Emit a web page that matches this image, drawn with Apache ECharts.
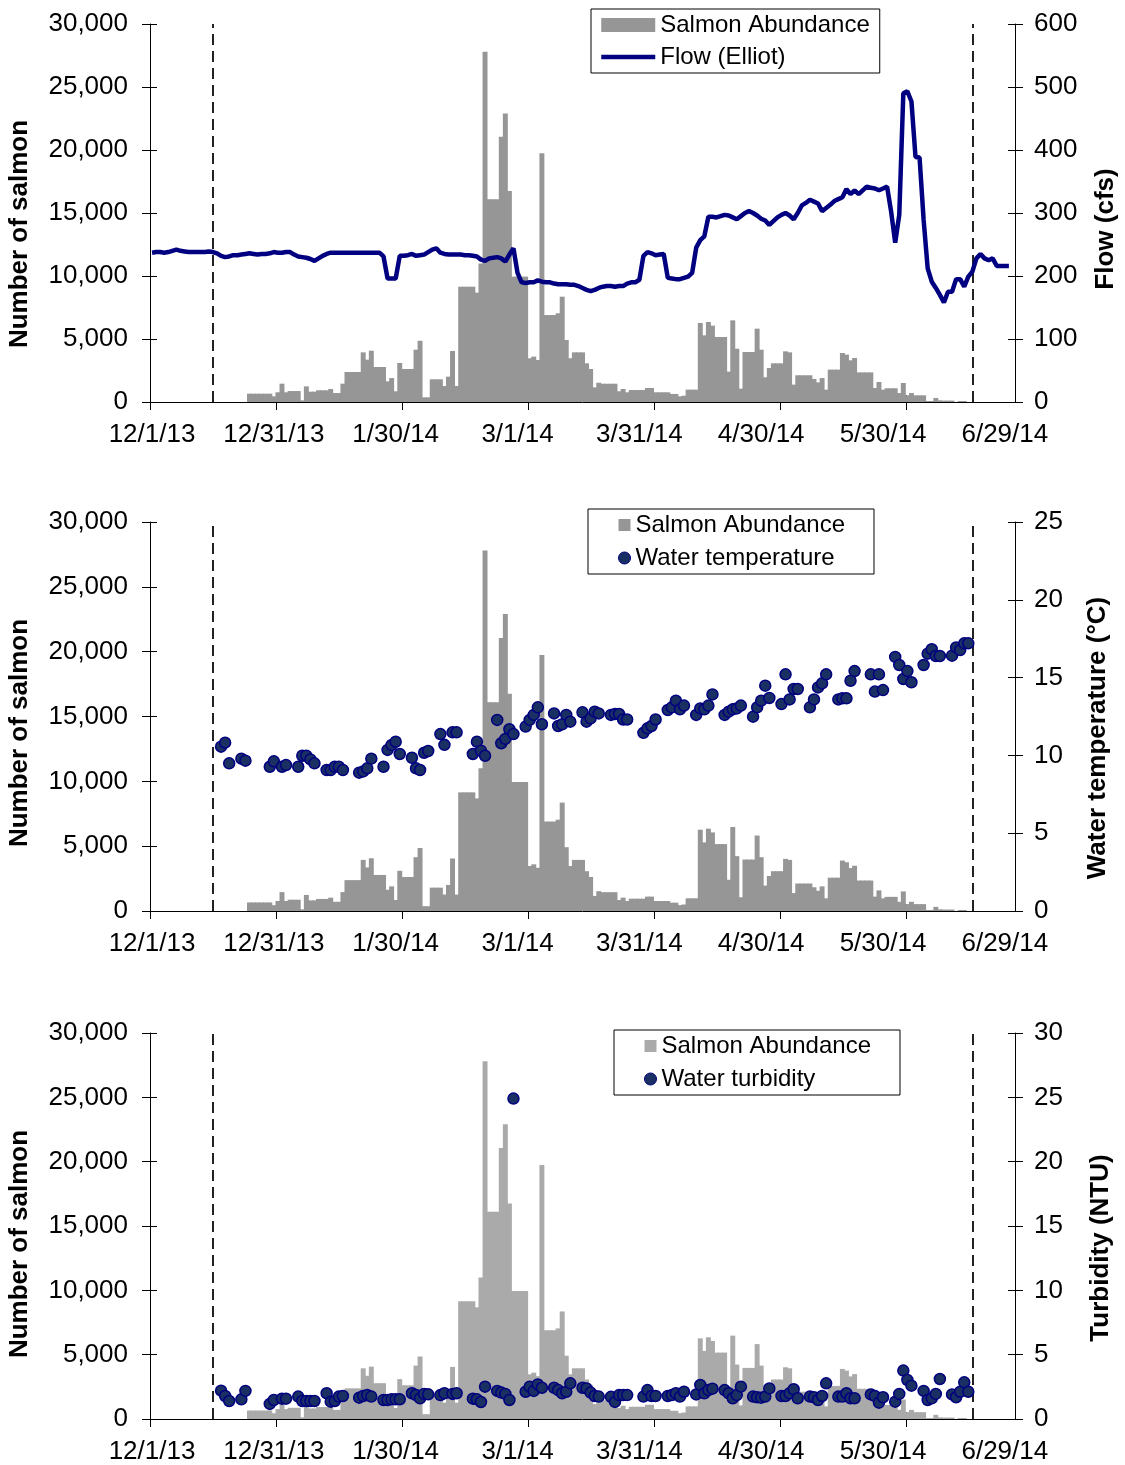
<!DOCTYPE html>
<html>
<head>
<meta charset="utf-8">
<title>Salmon abundance, flow, temperature and turbidity</title>
<script src="https://cdn.jsdelivr.net/npm/echarts@6/dist/echarts.min.js"></script>
<style>
  html, body { margin: 0; padding: 0; background: #fff; }
  #main { width: 1125px; height: 1465px; }
</style>
</head>
<body>
<div id="main"></div>
<script>
// daily salmon counts, index 0 = 12/1/13, last = 7/1/14
var salmon = [
  0,0,0,0,0,0,0,0,0,0,
  0,0,0,0,0,0,0,0,0,0,
  0,0,0,0,660,660,660,660,660,660,
  450,770,1455,770,870,870,870,130,1240,820,
  820,930,930,930,1030,710,710,1455,2380,2380,
  2380,2380,3940,3360,4070,2780,2780,2780,1640,1900,
  850,3100,2620,2620,2620,4150,4860,370,370,1800,
  1800,1800,1270,2010,4050,1270,9150,9150,9150,9150,
  8680,11000,27800,16100,16100,16100,21060,22900,16750,9950,
  9950,9950,9950,3470,3600,3330,19740,6900,6900,6900,
  7040,8360,4920,3470,3940,3940,3940,3070,2620,1160,
  1530,1450,1450,1450,1450,850,1030,770,950,950,
  950,950,1110,1110,770,770,770,770,640,640,
  450,500,980,980,980,6270,5290,6350,6060,5160,
  5160,5160,2410,6480,4230,1060,3970,3970,3970,5820,
  4150,1960,2700,3070,3070,3070,4020,3940,1380,2120,
  2120,2120,2120,1830,1560,1900,980,2570,2570,2570,
  3890,3760,3310,3490,2350,2350,2350,2350,1110,1590,
  980,1090,1090,1090,710,1510,530,710,530,530,
  530,80,80,320,130,110,110,110,0,80,
  80,0,0,0,0,0,0,0,0,0,
  0,0,0
];

// daily flow at Elliot (cfs), index 0 = 12/1/13
var flow = [
  237,238,238,237,238,240,242,240,239,238,
  238,238,238,238,239,238,236,232,230,231,
  233,233,234,235,236,235,234,235,235,236,
  238,237,237,238,238,234,231,230,229,227,
  224,228,232,235,237,237,237,237,237,237,
  237,237,237,237,237,237,237,231,196,196,
  196,232,232,233,235,232,233,234,238,242,
  244,237,235,234,234,234,234,233,233,232,
  231,226,224,228,229,230,228,223,234,244,
  205,190,189,190,190,193,191,190,190,188,
  187,187,187,186,186,184,181,178,176,178,
  181,183,184,184,183,184,184,188,190,190,
  194,232,238,236,233,234,235,197,196,195,
  195,197,199,205,245,257,263,294,294,293,
  295,297,296,293,290,295,300,303,300,296,
  291,288,281,287,293,297,300,296,290,300,
  312,316,321,318,315,303,308,313,319,322,
  325,338,330,336,330,336,342,340,339,336,
  339,342,302,253,297,490,493,477,389,388,
  289,212,191,181,170,158,175,175,195,195,
  183,199,207,228,235,228,225,228,216,216,
  216,216
];

// sampling days (index from 12/1/13) for water temperature and turbidity
var sampleDays = [
  17,18,19, 22,23, 29,30, 32,33,
  36,37,38,39,40, 43,44,45,46,47, 51,52,53,54, 57,58,59,60,61,
  64,65,66,67,68, 71,72,74,75, 79,80,81,82, 85,86,87,88,89,
  92,93,94,95,96, 99,100,101,102,103, 106,107,108,109,110, 113,114,115,116,117,
  121,122,123,124, 127,128,129,130,131, 134,135,136,137,138, 141,142,143,144,145,
  148,149,150,151,152, 155,156,157,158,159, 162,163,164,165,166, 169,170,171,172,173,
  177,178,179,180, 183,184,185,186,187, 190,191,192,193,194, 197,198,199,200,201
];

var tempC = [
  10.56,10.82,9.49, 9.79,9.66, 9.27,9.62, 9.27,9.38,
  9.27,9.98,9.98,9.74,9.49, 9.06,9.06,9.27,9.27,9.06, 8.89,8.97,9.17,9.79, 9.27,10.35,10.67,10.88,10.09,
  9.85,9.17,9.06,10.17,10.28, 11.37,10.68,11.48,11.48, 10.09,10.88,10.30,9.98, 12.28,10.78,11.06,11.68,11.37,
  11.85,12.28,12.60,13.09,12.00, 12.70,11.89,12.00,12.60,12.17, 12.77,12.17,12.38,12.81,12.70, 12.60,12.66,12.66,12.31,12.31,
  11.45,11.74,11.89,12.31, 12.92,13.09,13.52,12.96,13.20, 12.60,13.02,12.96,13.20,13.92, 12.60,12.81,12.96,13.02,13.20,
  12.49,13.09,13.52,14.48,13.69, 13.30,15.21,13.60,14.27,14.27, 13.09,13.60,14.37,14.63,15.21, 13.60,13.67,13.67,14.80,15.42,
  15.21,14.10,15.21,14.20, 16.33,15.81,14.91,15.42,14.70, 15.81,16.54,16.82,16.39,16.39, 16.41,16.94,16.77,17.20,17.20
];

var turbNTU = [
  2.20,1.79,1.40, 1.53,2.18, 1.17,1.48, 1.58,1.58,
  1.74,1.40,1.40,1.40,1.40, 2.00,1.35,1.40,1.74,1.79, 1.66,1.79,1.86,1.74, 1.48,1.48,1.53,1.53,1.53,
  2.00,1.86,1.61,1.95,1.92, 1.86,2.00,1.95,2.00, 1.58,1.53,1.32,2.51, 2.18,2.05,1.95,1.48,24.9,
  2.12,2.51,2.18,2.69,2.43, 2.43,2.25,2.00,2.12,2.77, 2.43,2.38,2.05,1.79,1.74, 1.72,1.33,1.86,1.86,1.86,
  1.74,2.25,1.79,1.79, 1.79,1.86,2.00,1.74,2.12, 1.91,2.64,2.00,2.25,2.36, 2.25,2.00,1.61,1.86,2.51,
  1.74,1.69,1.66,1.74,2.38, 1.79,1.79,2.00,2.31,1.61, 1.74,1.69,1.48,1.79,2.77, 1.74,1.74,2.00,1.61,1.61,
  1.91,1.79,1.27,1.69, 1.35,1.95,3.76,3.03,2.59, 2.18,1.48,1.61,1.95,3.11, 1.91,1.69,2.12,2.85,2.12
];

// the second set of tick marks on the date axis (every 30 of 206 slots)
var tickSlots = [0, 30, 60, 90, 120, 150, 180];
// dashed markers for the sampling window
var windowDates = ['12/16/13', '6/21/14'];

var dates = [];
for (var i = 0; i < 213; i++) {
  var dt = new Date(2013, 11, 1 + i);
  dates.push((dt.getMonth() + 1) + '/' + dt.getDate() + '/' + String(dt.getFullYear()).slice(2));
}

var FONT = '"Liberation Sans", Arial, sans-serif';
var NAVY = '#000080';

var panels = [
  { top: 24, height: 378, rightMax: 600, rightInterval: 100, rightName: 'Flow (cfs)',
    rightGap: 78, rightPad: 32, leftPad: 42, barColor: '#969696' },
  { top: 522, height: 389, rightMax: 25, rightInterval: 5, rightName: 'Water temperature (\u00b0C)',
    rightGap: 70, rightPad: 43, leftPad: 33, barColor: '#969696' },
  { top: 1033, height: 386, rightMax: 30, rightInterval: 5, rightName: 'Turbidity (NTU)',
    rightGap: 73, rightPad: 44, leftPad: 36, barColor: '#aaaaaa' }
];

// empty days are left out so no sliver is drawn on the axis
var salmonBars = salmon.map(function (v) { return v === 0 ? '-' : v; });

var grid = [], xAxis = [], yAxis = [], series = [];

panels.forEach(function (p, k) {
  grid.push({ left: 150, width: 865, top: p.top, height: p.height, outerBoundsMode: 'none' });

  // date axis: labels every 30 days, data slots
  xAxis.push({
    type: 'category', gridIndex: k, data: dates, boundaryGap: true, position: 'bottom',
    axisLine: { show: false }, axisTick: { show: false },
    axisLabel: { interval: 29, fontSize: 26, fontFamily: FONT, color: '#000', margin: 20 },
    splitLine: { show: false }
  });
  // tick marks (cross style: outside + inside)
  xAxis.push({
    type: 'value', gridIndex: k, min: 0, max: 206, position: 'bottom',
    axisLine: { show: true, onZero: false, lineStyle: { color: '#000', width: 1 } },
    axisTick: { show: true, inside: false, length: 8, customValues: tickSlots, lineStyle: { color: '#000' } },
    axisLabel: { show: false }, splitLine: { show: false }
  });
  xAxis.push({
    type: 'value', gridIndex: k, min: 0, max: 206, position: 'bottom',
    axisLine: { show: false, onZero: false },
    axisTick: { show: true, inside: true, length: 7, customValues: tickSlots, lineStyle: { color: '#000' } },
    axisLabel: { show: false }, splitLine: { show: false }
  });

  yAxis.push({
    type: 'value', gridIndex: k, position: 'left', min: 0, max: 30000, interval: 5000,
    name: 'Number of salmon', nameLocation: 'middle', nameGap: 117, nameRotate: 90,
    nameTextStyle: { fontSize: 26, fontWeight: 'bold', fontFamily: FONT, color: '#000', padding: [0, p.leftPad, 0, 0] },
    axisLine: { show: true, lineStyle: { color: '#000', width: 1 } },
    axisTick: { show: true, length: 8, lineStyle: { color: '#000' } },
    axisLabel: { fontSize: 26, fontFamily: FONT, color: '#000', margin: 22,
      formatter: function (v) { return v.toLocaleString('en-US'); } },
    splitLine: { show: false }
  });
  yAxis.push({
    type: 'value', gridIndex: k, position: 'left', min: 0, max: 30000, interval: 5000,
    axisLine: { show: false }, axisTick: { show: true, inside: true, length: 7, lineStyle: { color: '#000' } },
    axisLabel: { show: false }, splitLine: { show: false }
  });
  yAxis.push({
    type: 'value', gridIndex: k, position: 'right', min: 0, max: p.rightMax, interval: p.rightInterval,
    name: p.rightName, nameLocation: 'middle', nameGap: p.rightGap, nameRotate: 90,
    nameTextStyle: { fontSize: 26, fontWeight: 'bold', fontFamily: FONT, color: '#000', padding: [0, p.rightPad, 0, 0] },
    axisLine: { show: true, lineStyle: { color: '#000', width: 1 } },
    axisTick: { show: true, length: 8, lineStyle: { color: '#000' } },
    axisLabel: { fontSize: 26, fontFamily: FONT, color: '#000', margin: 19 },
    splitLine: { show: false }
  });
  yAxis.push({
    type: 'value', gridIndex: k, position: 'right', min: 0, max: p.rightMax, interval: p.rightInterval,
    axisLine: { show: false }, axisTick: { show: true, inside: true, length: 7, lineStyle: { color: '#000' } },
    axisLabel: { show: false }, splitLine: { show: false }
  });

  series.push({
    name: 'Salmon Abundance', type: 'bar', xAxisIndex: 3 * k, yAxisIndex: 4 * k,
    // slightly wider than a day slot so neighbouring days join without seams
    data: salmonBars, barWidth: '122%', barGap: '-100%',
    itemStyle: { color: p.barColor }, z: 2,
    markLine: {
      silent: true, symbol: 'none', label: { show: false },
      lineStyle: { color: '#222', type: [11, 6], width: 2 },
      data: windowDates.map(function (d) { return { xAxis: d }; })
    }
  });
});

series.push({
  name: 'Flow (Elliot)', type: 'line', xAxisIndex: 0, yAxisIndex: 2,
  data: flow, symbol: 'none', showSymbol: false,
  lineStyle: { color: NAVY, width: 4.5 }, itemStyle: { color: NAVY }, z: 5
});

var dotStyle = { color: '#1a2f62', borderColor: NAVY, borderWidth: 1.5, opacity: 1 };

series.push({
  name: 'Water temperature', type: 'scatter', xAxisIndex: 3, yAxisIndex: 6,
  data: sampleDays.map(function (d, i) { return [d, tempC[i]]; }),
  symbol: 'circle', symbolSize: 11, itemStyle: dotStyle, z: 5
});

series.push({
  name: 'Water turbidity', type: 'scatter', xAxisIndex: 6, yAxisIndex: 10,
  data: sampleDays.map(function (d, i) { return [d, turbNTU[i]]; }),
  symbol: 'circle', symbolSize: 11, itemStyle: dotStyle, z: 5
});

var legendText = { fontSize: 24, fontFamily: FONT, color: '#000', lineHeight: 26 };
var noMarker = { color: 'rgba(0,0,0,0)', borderColor: 'rgba(0,0,0,0)', borderWidth: 0, opacity: 0 };

var option = {
  animation: false,
  backgroundColor: '#fff',
  grid: grid,
  xAxis: xAxis,
  yAxis: yAxis,
  legend: [
    { orient: 'vertical', left: 591, top: 9, padding: [3, 10, 3, 8], itemGap: 6,
      itemWidth: 54, itemHeight: 14, borderColor: '#000', borderWidth: 1, textStyle: legendText,
      data: [{ name: 'Salmon Abundance', icon: 'rect' },
             { name: 'Flow (Elliot)', itemStyle: noMarker, lineStyle: { color: NAVY, width: 4.5 } }] },
    { orient: 'vertical', left: 588, top: 509, padding: [3, 29, 3, 30], itemGap: 7,
      itemWidth: 12, itemHeight: 12, borderColor: '#000', borderWidth: 1, textStyle: legendText,
      data: [{ name: 'Salmon Abundance', icon: 'rect', itemStyle: { borderWidth: 0 } },
             { name: 'Water temperature', icon: 'circle', itemStyle: { borderWidth: 1 } }] },
    { orient: 'vertical', left: 614, top: 1030, padding: [3, 29, 3, 30], itemGap: 7,
      itemWidth: 12, itemHeight: 12, borderColor: '#000', borderWidth: 1, textStyle: legendText,
      data: [{ name: 'Salmon Abundance', icon: 'rect', itemStyle: { color: '#aaaaaa', borderWidth: 0 } },
             { name: 'Water turbidity', icon: 'circle', itemStyle: { borderWidth: 1 } }] }
  ],
  series: series
};

var myChart = echarts.init(document.getElementById('main'));
myChart.setOption(option);
</script>
</body>
</html>
